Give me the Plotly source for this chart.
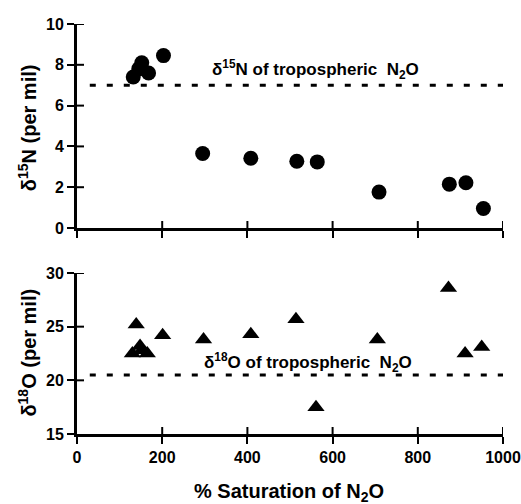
import plotly.graph_objects as go

# delta 15N panel
sat_n = [132, 145, 152, 168, 203, 295, 408, 516, 564, 709, 874, 913, 954]
d15n = [7.4, 7.8, 8.1, 7.6, 8.45, 3.65, 3.42, 3.27, 3.24, 1.76, 2.15, 2.22, 0.96]
tropo_15n = 7.0

# delta 18O panel
sat_o = [130, 139, 148, 152, 165, 201, 297, 408, 514, 561, 705, 872, 911, 950]
d18o = [22.5, 25.2, 23.2, 22.8, 22.5, 24.2, 23.8, 24.3, 25.7, 17.5, 23.8, 28.6, 22.5, 23.1]
tropo_18o = 20.5

line_x = [30, 1000]
x_ticks = [0, 200, 400, 600, 800, 1000]
n_ticks = [0, 2, 4, 6, 8, 10]
o_ticks = [15, 20, 25, 30]

FONT = "Liberation Sans"
tickfont = dict(family=FONT, size=16, color="black", weight="bold")

fig = go.Figure()
fig.add_trace(go.Scatter(x=sat_n, y=d15n, mode="markers",
                         marker=dict(symbol="circle", size=15, color="black"),
                         xaxis="x", yaxis="y", showlegend=False))
fig.add_trace(go.Scatter(x=sat_o, y=d18o, mode="markers",
                         marker=dict(symbol="triangle-up", size=15, color="black"),
                         xaxis="x2", yaxis="y2", showlegend=False))
fig.add_trace(go.Scatter(x=line_x, y=[tropo_15n] * 2, mode="lines",
                         line=dict(color="black", width=3, dash="6px,11px"),
                         xaxis="x", yaxis="y", showlegend=False))
fig.add_trace(go.Scatter(x=line_x, y=[tropo_18o] * 2, mode="lines",
                         line=dict(color="black", width=3, dash="6px,11px"),
                         xaxis="x2", yaxis="y2", showlegend=False))

title_font = dict(family=FONT, size=20, color="black", weight="bold")
ann_font = dict(family=FONT, size=17, color="black", weight="bold")


def xax(anchor, labels):
    return dict(anchor=anchor, domain=[0, 1], range=[0, 1000], tickvals=x_ticks,
                showline=True, linecolor="black", linewidth=3,
                ticks="outside", ticklen=7, tickwidth=2, tickcolor="black",
                showgrid=False, zeroline=False, showticklabels=labels,
                tickfont=tickfont, automargin=False)


def yax(anchor, domain, rng, tv):
    return dict(anchor=anchor, domain=domain, range=rng, tickvals=tv,
                showline=True, linecolor="black", linewidth=3,
                ticks="outside", ticklen=7, tickwidth=2, tickcolor="black",
                showgrid=False, zeroline=False, tickfont=tickfont, automargin=False)


# inner halves of the crossing tick marks
shapes = []
for xr, yr, ylo in (("x", "y", 0), ("x2", "y2", 15)):
    for t in x_ticks[1:]:
        shapes.append(dict(type="line", xref=xr, yref=yr, x0=t, x1=t,
                           ysizemode="pixel", yanchor=ylo, y0=0, y1=7,
                           line=dict(color="black", width=2)))
for xr, yr, ticks in (("x", "y", n_ticks), ("x2", "y2", o_ticks)):
    for t in ticks[1:]:
        shapes.append(dict(type="line", xref=xr, yref=yr, y0=t, y1=t,
                           xsizemode="pixel", xanchor=0, x0=0, x1=7,
                           line=dict(color="black", width=2)))

fig.update_layout(
    width=521, height=504,
    margin=dict(l=77, r=18, t=24, b=70),
    plot_bgcolor="white", paper_bgcolor="white",
    xaxis=xax("y", False),
    yaxis=yax("x", [0.5024, 1], [0, 10], n_ticks),
    xaxis2=xax("y2", True),
    yaxis2=yax("x2", [0, 0.3927], [15, 30], o_ticks),
    shapes=shapes,
    annotations=[
        dict(text="δ<sup>15</sup>N of tropospheric  N<sub>2</sub>O", x=0.559, y=7.75,
             xref="paper", yref="y", xanchor="center", yanchor="middle",
             showarrow=False, font=ann_font),
        dict(text="δ<sup>18</sup>O of tropospheric  N<sub>2</sub>O", x=0.542, y=21.7,
             xref="paper", yref="y2", xanchor="center", yanchor="middle",
             showarrow=False, font=ann_font),
        dict(text="δ<sup>15</sup>N (per mil)", x=-0.117, y=4.9, xref="paper", yref="y",
             xanchor="center", yanchor="middle", textangle=-90, showarrow=False,
             font=title_font),
        dict(text="δ<sup>18</sup>O (per mil)", x=-0.117, y=22.6, xref="paper", yref="y2",
             xanchor="center", yanchor="middle", textangle=-90, showarrow=False,
             font=title_font),
        dict(text="% Saturation of N<sub>2</sub>O", x=0.498, y=-0.143, xref="paper",
             yref="paper", xanchor="center", yanchor="middle", showarrow=False,
             font=dict(title_font, size=20)),
    ],
)

fig.write_html("out.html")
